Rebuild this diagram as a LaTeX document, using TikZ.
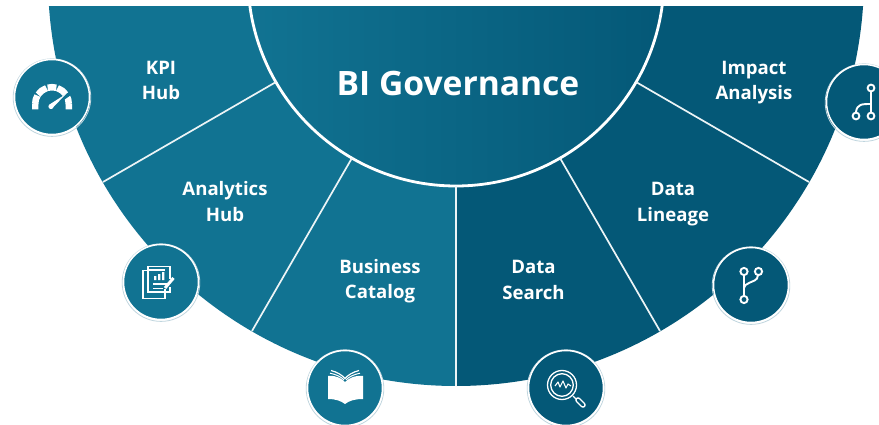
\documentclass[tikz,border=0pt]{standalone}
\usepackage{fontspec}
\setmainfont{Open Sans}
\definecolor{tealL}{HTML}{117392}
\definecolor{tealD}{HTML}{045877}
\definecolor{halo}{HTML}{BFD5DE}
\tikzset{
  seglabel/.style={text=white,font=\fontsize{18.6}{25.6}\selectfont\bfseries,align=center,inner sep=0pt},
  divider/.style={draw=white!92!tealL,line width=1.7pt},
  badgeL/.style={circle,minimum size=75pt,inner sep=0pt,fill=tealL,draw=white,line width=1.5pt},
  badgeD/.style={badgeL,fill=tealD},
  haloring/.style={draw=halo,line width=.8pt},
  ico/.style={draw=white,line width=1.3pt,fill=none},
  icob/.style={draw=white,line width=1.9pt,fill=none},
}
\begin{document}
\begin{tikzpicture}[x=1pt,y=-1pt]
\useasboundingbox (0,0) rectangle (879,425);
\fill[white] (0,0) rectangle (879,425);
% ring, split into two halves
\begin{scope}
  \clip (0,6.4) rectangle (879,425);
  \fill[tealL] (456,-22) -- (48,-22) arc[start angle=180,end angle=270,radius=408pt] -- cycle;
  \fill[tealD] (456,-22) -- (864,-22) arc[start angle=0,end angle=-90,radius=408pt] -- cycle;
  \path[left color=tealL,right color=tealD] (456,-22) circle[radius=208pt];
  \draw[white,line width=2.8pt] (456,-22) circle[radius=208pt];
\end{scope}
% named ends of the dividers
\coordinate (i1) at (276,82);  \coordinate (o1) at (103,182);
\coordinate (i2) at (352,158); \coordinate (o2) at (252,331);
\coordinate (i3) at (456,186); \coordinate (o3) at (456,386);
\coordinate (i4) at (560,158); \coordinate (o4) at (660,331);
\coordinate (i5) at (636,82);  \coordinate (o5) at (809,182);
\foreach \n in {1,...,5} \draw[divider] (i\n) -- (o\n);
% labels
\node[text=white,font=\fontsize{33.6}{38}\selectfont\bfseries,inner sep=0pt] (title) at (458,83.5) {BI Governance};
\node[seglabel] (kpi) at (161,80.5) {KPI\\Hub};
\node[seglabel] (ana) at (225,201.5) {Analytics\\Hub};
\node[seglabel] (bus) at (380,281) {Business\\Catalog};
\node[seglabel] (sea) at (533.5,280) {Data\\Search};
\node[seglabel] (lin) at (673,204) {Data\\Lineage};
\node[seglabel] (imp) at (754,82.5) {Impact\\Analysis};
% badges
\foreach \x/\y/\s/\m in {52/97/badgeL/b1,161/282/badgeL/b2,345/388/badgeL/b3,566/388/badgeD/b4,751/285/badgeD/b5,864/102/badgeD/b6}{
  \draw[haloring] (\x,\y+.6) circle[radius=38.8pt];
  \node[\s] (\m) at (\x,\y) {};
}
% gauge
\foreach \a/\b in {180/150,146/109,105/75,71/34,30/0}{
  \draw[white,line width=6.5pt] (52,104) ++(\a:16.8pt) arc[start angle=\a,end angle=\b,radius=16.8pt];
}
\fill[white] (32,104) rectangle (38.4,109.5) (65.6,104) rectangle (72,109.5);
\fill[tealL] (52,104) -- (69,92) -- (71,95) -- (54,107) -- cycle;
\fill[white] (49.5,104.5) -- (66,94) -- (53,107.5) -- cycle;
\fill[white] (51,106.5) circle[radius=2.6pt];
% document pile
\draw[ico] (148,270) -- (148,266.5) -- (170,266.5) -- (170,279) (170,287) -- (170,292) -- (165,292);
\draw[ico] (148,270) -- (165,270) (148,270) -- (148,292) -- (165,292) -- (165,289);
\draw[ico] (148,270.5) -- (143,270.5) -- (143,298.5) -- (165,298.5) -- (165,292);
\draw[ico] (153,284) -- (167,284) (153,288.5) -- (163,288.5);
\fill[white] (154,276) rectangle +(2.4,4) (158,274) rectangle +(2.4,6) (162,272) rectangle +(2.4,8);
\draw[white,line width=3pt] (165,288) -- (173.5,278);
% book
\fill[white] (328,376) .. controls (337,375) and (342,379) .. (345,382) .. controls (348,379) and (354,375) .. (363,376)
  -- (363,399) .. controls (354,399) and (349,401) .. (345,404) .. controls (341,401) and (336,399) .. (328,399) -- cycle;
\draw[white,line width=1.2pt] (331,370.5) .. controls (337,372) and (342,375) .. (345,378.5) .. controls (348,375) and (353,372) .. (359,370.5);
\draw[white,line width=1pt] (330,373.2) .. controls (336,374.4) and (341,376.8) .. (344,379.8) (360,373.2) .. controls (354,374.4) and (349,376.8) .. (346,379.8);
% magnifier
\draw[ico] (562,385) circle[radius=14.5pt];
\draw[ico] (562,385) circle[radius=11.3pt];
\draw[white,line width=1.1pt,line join=round] (555,386) -- (558,382) -- (560,387) -- (563,381) -- (566,388) -- (568,384) -- (571,386);
\draw[ico] (573,396) -- (576,399);
\draw[white,line width=5.6pt,line cap=round] (578,400) -- (583,405);
\draw[tealD,line width=2.8pt,line cap=round] (578,400) -- (583,405);
% branch
\draw[icob] (744,275) -- (744,295);
\draw[icob] (758,275) .. controls (758,281) and (752,281) .. (749,283) .. controls (746,285) and (744,285) .. (744,288);
\foreach \x/\y in {744/271.5,758.5/271.5,744/299.5} \draw[icob] (\x,\y) circle[radius=3.6pt];
% impact graph
\draw[icob] (871,92) -- (871,112);
\draw[icob] (871,104) .. controls (862,104) and (857,104) .. (856,112);
\foreach \x/\y in {871/88,856/116,871/116} \draw[icob] (\x,\y) circle[radius=3.4pt];
\end{tikzpicture}
\end{document}
